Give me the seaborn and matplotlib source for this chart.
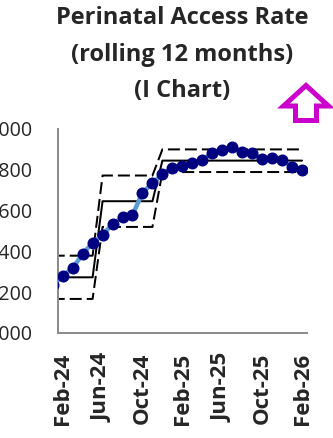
import numpy as np
import pandas as pd
import matplotlib
matplotlib.use("Agg")
import matplotlib.pyplot as plt
from matplotlib.patches import Polygon
import seaborn as sns

# Monthly series, Jan-24 .. Feb-26 (Jan-24 sits just left of the visible window)
months = pd.date_range("2024-01-01", "2026-02-01", freq="MS")
month_labels = [m.strftime("%b-%y") for m in months]

access_rate = [1235, 1280, 1318, 1387, 1443, 1480, 1534, 1567, 1578, 1688,
               1734, 1778, 1809, 1818, 1831, 1850, 1880, 1897, 1910, 1889,
               1880, 1852, 1859, 1850, 1815, 1799]

# I-chart process limits, recalculated at each step change
centre_line = [1273] * 5 + [1646] * 6 + [1845] * 15
upper_limit = [1379] * 5 + [1772] * 6 + [1900] * 15
lower_limit = [1167] * 5 + [1520] * 6 + [1789] * 15

tick_months = ["Feb-24", "Jun-24", "Oct-24", "Feb-25", "Jun-25", "Oct-25", "Feb-26"]
y_ticks = [1000, 1200, 1400, 1600, 1800, 2000]

df = pd.DataFrame({
    "pos": np.arange(len(months)),
    "month": month_labels,
    "rate": access_rate,
    "mean": centre_line,
    "ucl": upper_limit,
    "lcl": lower_limit,
})

sns.set_style("white")
plt.rcParams["font.family"] = ["Open Sans", "DejaVu Sans"]

W, H = 333, 438
fig = plt.figure(figsize=(W / 100, H / 100), dpi=100)
ax = fig.add_axes([57.7 / W, 1 - 333 / H, 249.3 / W, 204 / H])

px = 0.72  # points per pixel at 100 dpi
dash = (6, 2.5)

sns.lineplot(data=df, x="pos", y="ucl", ax=ax, color="black", lw=2 * px,
             zorder=2).lines[-1].set_dashes(dash)
sns.lineplot(data=df, x="pos", y="lcl", ax=ax, color="black", lw=2 * px,
             zorder=2).lines[-1].set_dashes(dash)
sns.lineplot(data=df, x="pos", y="mean", ax=ax, color="black", lw=2 * px, zorder=2)
sns.lineplot(data=df, x="pos", y="rate", ax=ax, color="#5B9BD5", lw=4.5 * px, zorder=3)
sns.scatterplot(data=df, x="pos", y="rate", ax=ax, color="#000080", s=(12 * px) ** 2,
                edgecolor="#000080", linewidth=0, zorder=4)

ax.set_xlim(0.5, len(months) - 0.5)
ax.set_ylim(y_ticks[0], y_ticks[-1])
ax.set_xticks([month_labels.index(m) for m in tick_months])
ax.set_xticklabels(tick_months, rotation=90, fontsize=16, fontweight="bold")
ax.set_yticks(y_ticks)
ax.set_yticklabels([str(v) for v in y_ticks], fontsize=14.2)
ax.set_xlabel("")
ax.set_ylabel("")

for side in ("top", "right"):
    ax.spines[side].set_visible(False)
for side in ("left", "bottom"):
    ax.spines[side].set_color("#8C8C8C")
    ax.spines[side].set_linewidth(2 * px)
ax.tick_params(axis="y", length=8 * px, width=2 * px, color="#8C8C8C", pad=12.5)
ax.tick_params(axis="x", length=0, pad=14)

fig.text(182 / W, 1 - 6.5 / H, "Perinatal Access Rate\n(rolling 12 months)\n(I Chart)",
         ha="center", va="top", fontsize=17, fontweight="bold", linespacing=1.68)

# Direction-of-improvement arrow (higher is better)
arrow_px = [(306, 85.5), (283.5, 106), (295.5, 106), (295.5, 120.5),
            (316.5, 120.5), (316.5, 106), (328.5, 106)]
fig.patches.append(Polygon([(x / W, 1 - y / H) for x, y in arrow_px], closed=True,
                           transform=fig.transFigure, facecolor="white",
                           edgecolor="#CC00CC", lw=5 * px, joinstyle="miter"))

fig.savefig("out.png", dpi=100)
